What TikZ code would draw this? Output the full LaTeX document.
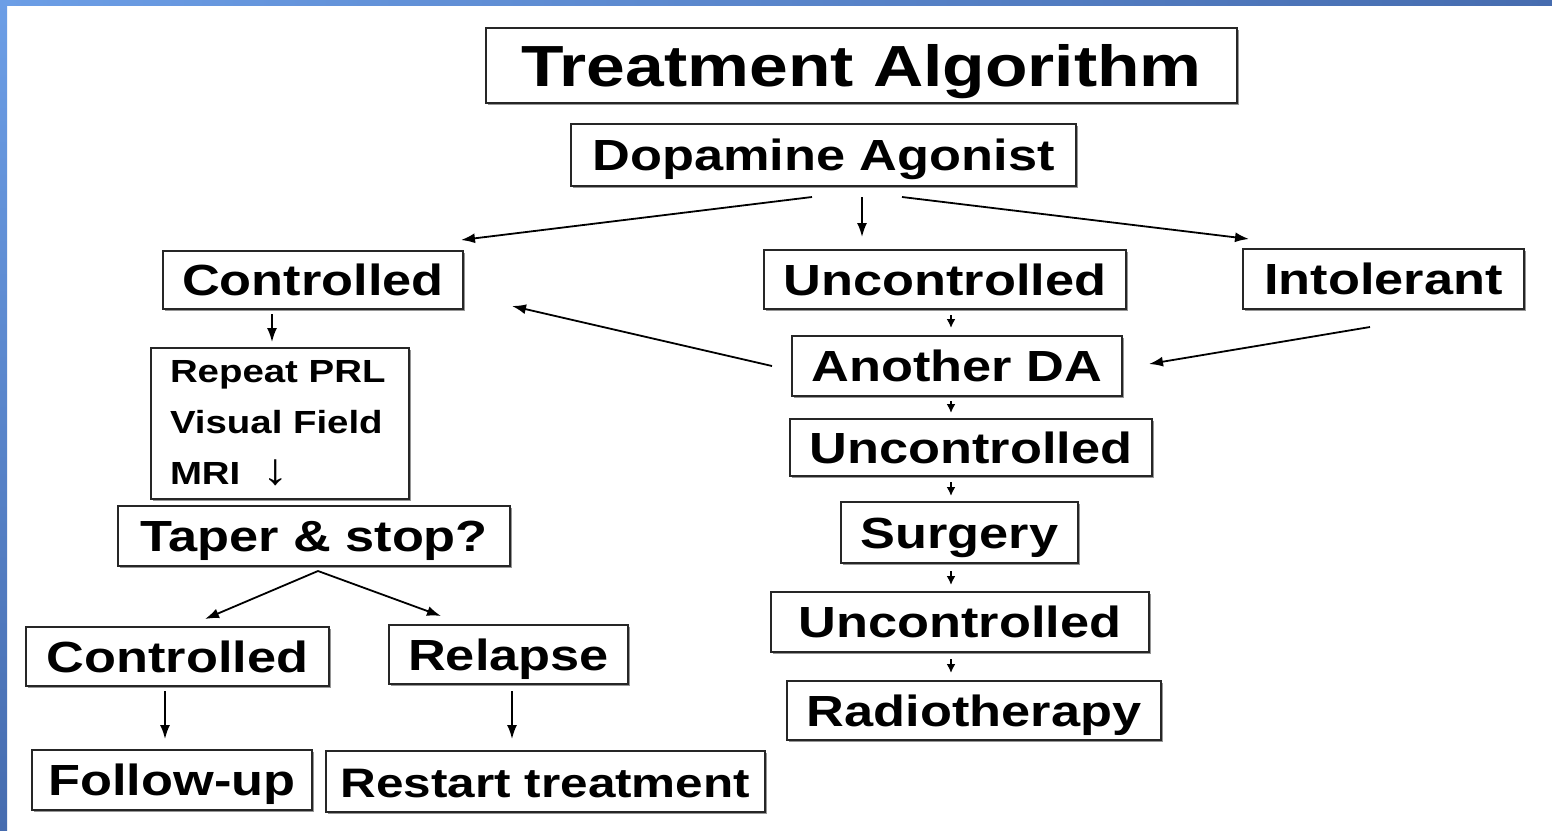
\documentclass[tikz,border=0pt]{standalone}
\usepackage{fontspec}
\usetikzlibrary{positioning,arrows.meta,shadows}
\newfontfamily\algofont[FakeStretch=1.2]{Liberation Sans}
\definecolor{myblueiii}{RGB}{108,158,230}
\definecolor{myblueiv}{RGB}{70,108,175}
\definecolor{myshade}{RGB}{150,150,150}

\begin{document}
\begin{tikzpicture}[x=0.5pt,y=-0.5pt,
algob/.style={
  draw=black!85,
  line width=1pt,
  fill=white,
  drop shadow={shadow xshift=1.2pt,shadow yshift=-1.2pt,fill=myshade,opacity=1},
  inner sep=0pt,
  font={\algofont\bfseries\fontsize{21.8}{26}\selectfont},
  text height=15.6pt,
  text depth=0pt},
titleb/.style={algob,font={\algofont\bfseries\fontsize{29}{34}\selectfont},text height=20.8pt},
listb/.style={algob,font={\algofont\bfseries\fontsize{16}{25.5}\selectfont},
  text height=,text depth=,align=left,text width=110pt,inner xsep=9.5pt},
tipb/.style={-{Latex[length=7pt,width=5pt]},line width=0.9pt},
tips/.style={-{Latex[length=4.5pt,width=4.5pt]},line width=0.9pt},
]
\useasboundingbox (0,0) rectangle (1552,830);
\fill[white] (0,0) rectangle (1552,830);
\fill[left color=myblueiii,right color=myblueiv] (0,0) rectangle (1552,5);
\fill[top color=myblueiii,bottom color=myblueiv] (0,0) rectangle (7,830);

\node[titleb,minimum width=375.5pt,minimum height=37.5pt] (Tit) at (861.5,65.5) {Treatment Algorithm\hspace{6pt}};
\node[algob,minimum width=252.5pt,minimum height=31pt] (Dop) at (823.5,155) {Dopamine Agonist};
\node[algob,minimum width=150pt,minimum height=29pt] (Con) at (313,280) {Controlled};
\node[algob,minimum width=181pt,minimum height=29.5pt] (UnA) at (945,279.5) {Uncontrolled};
\node[algob,minimum width=140.5pt,minimum height=30pt] (Int) at (1383.5,279) {Intolerant};
\node[algob,minimum width=165pt,minimum height=30pt] (Ano) at (957,366) {Another DA};
\node[algob,minimum width=181pt,minimum height=28.5pt] (UnB) at (971,447.5) {Uncontrolled};
\node[algob,minimum width=118.5pt,minimum height=30.5pt] (Sur) at (959.5,532.5) {Surgery};
\node[algob,minimum width=189pt,minimum height=30pt] (UnC) at (960,622) {Uncontrolled};
\node[algob,minimum width=187pt,minimum height=29.5pt] (Rad) at (974,710.5) {Radiotherapy};
\node[listb,minimum width=129pt,minimum height=75.5pt] (Rep) at (280,423.5) {Repeat PRL\\Visual Field\\MRI\hspace{11pt}{\fontsize{22}{22}\selectfont↓}};
\node[algob,minimum width=196pt,minimum height=30pt] (Tap) at (314,536) {Taper \& stop?};
\node[algob,minimum width=151.5pt,minimum height=29.5pt] (CoB) at (177.5,656.5) {Controlled};
\node[algob,minimum width=119.5pt,minimum height=29.5pt] (Rel) at (508.5,654.5) {Relapse};
\node[algob,minimum width=140pt,minimum height=30pt] (Fol) at (172,780) {Follow-up};
\node[algob,minimum width=219.5pt,minimum height=30.5pt,font={\algofont\bfseries\fontsize{20.6}{25}\selectfont}] (Res) at (545.5,781.5) {Restart treatment};

\draw[tipb] ([shift={(-11.5,10)}]Dop.south) -- ([shift={(-3,-10)}]Con.north east);
\draw[tipb] ([shift={(38.5,10)}]Dop.south) -- ([shift={(-83,-12)}]UnA.north);
\draw[tipb] ([shift={(78.5,10)}]Dop.south) -- ([shift={(7,-9)}]Int.north west);
\draw[tipb] ([shift={(-41,4)}]Con.south) -- ([shift={(-8,-5)}]Rep.north);
\draw[tipb] ([shift={(-19,0)}]Ano.west) -- ([shift={(48,26)}]Con.east);
\draw[tipb] ([shift={(-13.5,17)}]Int.south) -- ([shift={(26,-2)}]Ano.east);
\draw[tips] ([shift={(6,5)}]UnA.south) -- ([shift={(-6,-7)}]Ano.north);
\draw[tips] ([shift={(-6,4)}]Ano.south) -- ([shift={(-20,-5)}]UnB.north);
\draw[tips] ([shift={(-20,5)}]UnB.south) -- ([shift={(-8.5,-5)}]Sur.north);
\draw[tips] ([shift={(-8.5,7)}]Sur.south) -- ([shift={(-9,-6)}]UnC.north);
\draw[tips] ([shift={(-9,6)}]UnC.south) -- ([shift={(-23,-7)}]Rad.north);
\draw[tipb] ([shift={(4,4)}]Tap.south) -- ([shift={(27.5,-7)}]CoB.north);
\draw[tipb] ([shift={(4,4)}]Tap.south) -- ([shift={(-67.5,-8)}]Rel.north);
\draw[tipb] ([shift={(-12.5,4)}]CoB.south) -- ([shift={(-7,-10)}]Fol.north);
\draw[tipb] ([shift={(3.5,6)}]Rel.south) -- ([shift={(-33.5,-11)}]Res.north);

\end{tikzpicture}
\end{document}
